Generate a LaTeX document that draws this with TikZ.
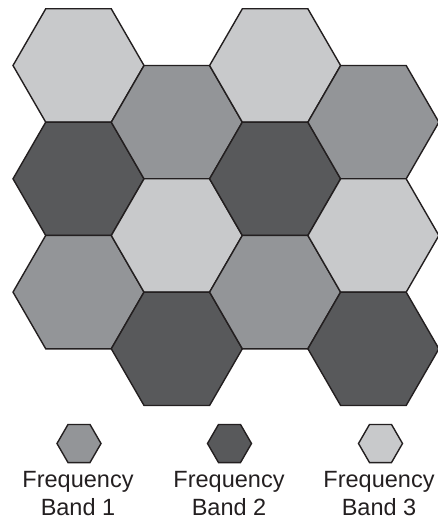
\documentclass[tikz,border=0pt]{standalone}
\usepackage{fontspec}
\setmainfont{Liberation Sans}
\usetikzlibrary{shapes.geometric}
\definecolor{bandA}{HTML}{939598}
\definecolor{bandB}{HTML}{58595B}
\definecolor{bandC}{HTML}{C8C9CB}
\definecolor{edgecol}{HTML}{231F20}
\tikzset{
  cell/.style={regular polygon, regular polygon sides=6, minimum size=131pt,
    inner sep=0pt, outer sep=0pt, draw=edgecol, line width=1.4pt, line join=miter},
  key/.style={regular polygon, regular polygon sides=6, minimum size=44pt,
    inner sep=0pt, outer sep=0pt, draw=edgecol, line width=1.4pt},
  lbl/.style={font=\fontsize{23.5}{28}\selectfont, text=edgecol, align=center,
    inner sep=0pt, anchor=base}
}
\begin{document}
\begin{tikzpicture}[x=1pt,y=-1pt]
\useasboundingbox (0,0) rectangle (438,519);
% column 1
\node[cell, fill=bandC] (c11) at (78.5,65.5) {};
\node[cell, fill=bandB] (c12) at (78.5,178.8) {};
\node[cell, fill=bandA] (c13) at (78.5,292.1) {};
% column 2
\node[cell, fill=bandA] (c21) at (176.8,122.2) {};
\node[cell, fill=bandC] (c22) at (176.8,235.5) {};
\node[cell, fill=bandB] (c23) at (176.8,348.8) {};
% column 3
\node[cell, fill=bandC] (c31) at (275.1,65.5) {};
\node[cell, fill=bandB] (c32) at (275.1,178.8) {};
\node[cell, fill=bandA] (c33) at (275.1,292.1) {};
% column 4
\node[cell, fill=bandA] (c41) at (373.4,122.2) {};
\node[cell, fill=bandC] (c42) at (373.4,235.5) {};
\node[cell, fill=bandB] (c43) at (373.4,348.8) {};
% legend
\node[key, fill=bandA] (k1) at (79,443.5) {};
\node[key, fill=bandB] (k2) at (229.5,443.5) {};
\node[key, fill=bandC] (k3) at (380.5,443.5) {};
\node[lbl] (t1) at (78,515) {Frequency\\Band 1};
\node[lbl] (t2) at (229,515) {Frequency\\Band 2};
\node[lbl] (t3) at (379,515) {Frequency\\Band 3};
\end{tikzpicture}
\end{document}
